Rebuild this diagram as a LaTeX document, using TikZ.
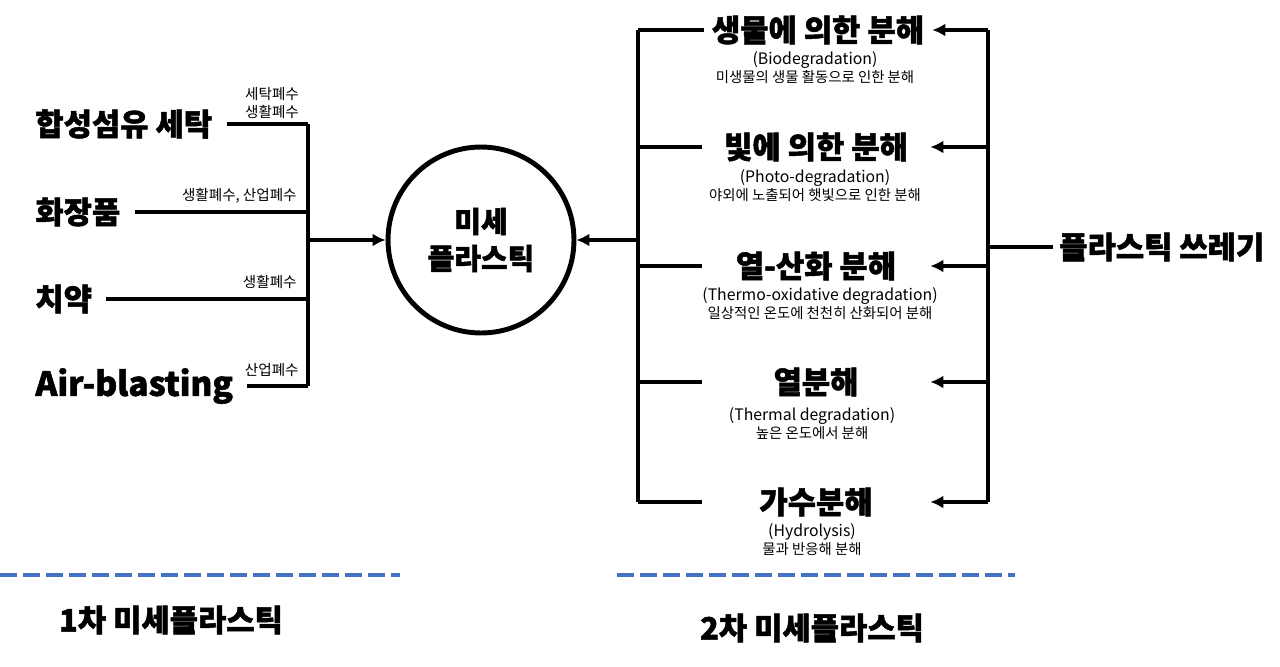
\documentclass[tikz,border=0pt]{standalone}
\usepackage{fontspec}
\usepackage{tikz}
\usetikzlibrary{arrows.meta,positioning}
\setmainfont{Noto Sans CJK KR}[BoldFont={Noto Sans CJK KR Black}, BoldFeatures={FakeBold=1.6}]
\definecolor{mpink}{RGB}{0,0,0}
\definecolor{mpdash}{RGB}{68,114,196}
\newcommand{\latn}{\fontsize{9}{10.2}\selectfont}
\tikzset{
  big/.style={font=\fontsize{17.5}{20}\selectfont\bfseries, text=mpink},
  src/.style={big, anchor=west, inner xsep=8pt, inner ysep=2pt},
  deg/.style={big, minimum width=4.56cm, inner sep=0pt, minimum height=0.5cm},
  sub/.style={font=\fontsize{8.2}{10.2}\selectfont, align=center, inner sep=0pt},
  lab/.style={font=\fontsize{8.3}{10.4}\selectfont, align=center, inner sep=0pt},
  core/.style={circle, draw=mpink, line width=2.8pt, minimum size=3.72cm,
    align=center, font=\fontsize{16.5}{21}\selectfont\bfseries},
  ln/.style={draw=mpink, line width=2.2pt},
  arr/.style={ln, -{Latex[length=2.6mm,width=2.6mm]}},
  dsh/.style={draw=mpdash, line width=2.8pt, dash pattern=on 0.34cm off 0.12cm},
  foot/.style={font=\fontsize{17.5}{20}\selectfont\bfseries}
}
\begin{document}
\begin{tikzpicture}[x=0.02cm,y=-0.02cm]
  \useasboundingbox (0,0) rectangle (1280,666);
  % primary sources
  \node[src] (fib) at (21,124) {합성섬유 세탁};
  \node[src] (cos) at (21,212) {화장품};
  \node[src] (tp) at (21,299) {치약};
  \node[src, font=\fontsize{19}{22}\selectfont\bfseries] (air) at (21,386) {Air-blasting};
  \coordinate (lbus) at (308,0);
  \node[lab] (wfib) at (272,103) {세탁폐수\\생활폐수};
  \node[lab, anchor=east] (wcos) at (297,196) {생활폐수, 산업폐수};
  \node[lab, anchor=east] (wtp) at (297,282) {생활폐수};
  \node[lab, anchor=east] (wair) at (299,370) {산업폐수};
  \foreach \s in {fib,cos,tp,air}
    \draw[ln] (\s.east) -- (\s.east -| lbus);
  \draw[ln] (fib.east -| lbus) -- (air.east -| lbus);
  % micro plastic
  \node[core] (mp) at (481,240) {미세\\플라스틱};
  \draw[arr] (lbus |- mp) -- (mp.west);
  % secondary routes
  \node[deg] (bio) at (818,30) {생물에 의한 분해};
  \node[deg] (pho) at (816,147) {빛에 의한 분해};
  \node[deg] (tox) at (816,266) {열-산화 분해};
  \node[deg] (thm) at (816,382) {열분해};
  \node[deg] (hyd) at (816,502) {가수분해};
  \node[sub] (sbio) at (815,68) {{\latn(Biodegradation)}\\미생물의 생물 활동으로 인한 분해};
  \node[sub] (spho) at (815,186) {{\latn(Photo-degradation)}\\야외에 노출되어 햇빛으로 인한 분해};
  \node[sub] (stox) at (820,304) {{\latn(Thermo-oxidative degradation)}\\일상적인 온도에 천천히 산화되어 분해};
  \node[sub] (sthm) at (812,424) {{\latn(Thermal degradation)}\\높은 온도에서 분해};
  \node[sub] (shyd) at (812,540) {{\latn(Hydrolysis)}\\물과 반응해 분해};
  \coordinate (mbus) at (638,0);
  \coordinate (rbus) at (988,0);
  \foreach \d in {bio,pho,tox,thm,hyd} {
    \draw[ln] (\d.west -| mbus) -- (\d.west);
    \draw[arr] (\d.east -| rbus) -- (\d.east);
  }
  \draw[ln] (bio.west -| mbus) -- (hyd.west -| mbus);
  \draw[ln] (bio.east -| rbus) -- (hyd.east -| rbus);
  \draw[arr] (mbus |- mp) -- (mp.east);
  \node[big, anchor=west] (waste) at (1053,247) {플라스틱 쓰레기};
  \draw[ln] (waste.west) -- (waste.west -| rbus);
  % footer
  \draw[dsh] (0,575) -- (400,575);
  \draw[dsh] (617,575) -- (1015,575);
  \node[foot] (first) at (171,620) {1차 미세플라스틱};
  \node[foot] (second) at (812,628) {2차 미세플라스틱};
\end{tikzpicture}
\end{document}
